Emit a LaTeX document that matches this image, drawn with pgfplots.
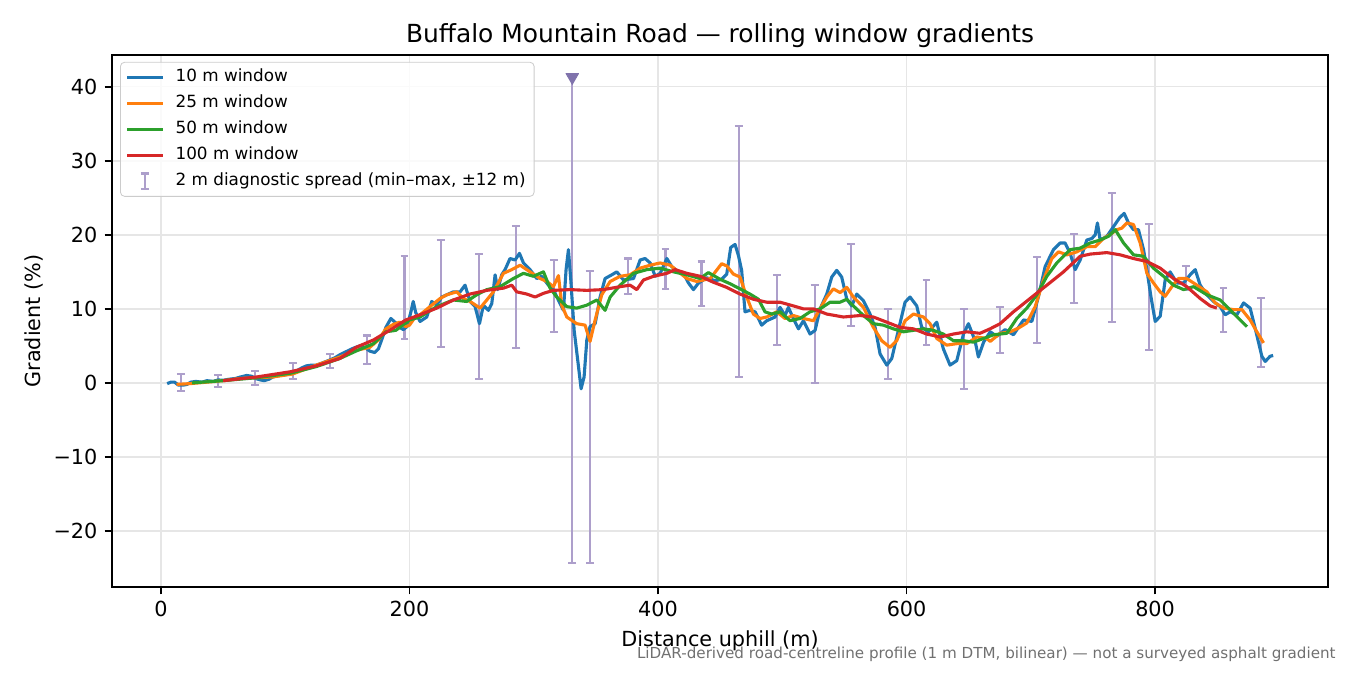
\documentclass[border=0pt]{standalone}
\usepackage{fontspec}
\setmainfont{DejaVu Sans}
\usepackage{pgfplots}
\pgfplotsset{compat=1.18}
\usepackage{pgfplotstable}

\definecolor{c10}{HTML}{1F77B4}
\definecolor{c25}{HTML}{FF7F0E}
\definecolor{c50}{HTML}{2CA02C}
\definecolor{c100}{HTML}{D62728}
\definecolor{errc}{HTML}{AD9FCB}
\definecolor{tric}{HTML}{8073AC}
\definecolor{notec}{HTML}{707070}
\definecolor{gridc}{HTML}{E6E6E6}

% 2 m diagnostic spread: min and max over +-12 m
\pgfplotstableread{
x lo hi
16 -1.1 1.2
46 -0.5 1.1
76 -0.3 1.6
106 0.5 2.7
136 2.0 3.9
166 2.6 6.4
196 5.9 17.2
225 4.9 19.3
256 0.5 17.4
286 4.7 21.2
316 6.9 16.6
331 -24.3 41.3
345 -24.3 15.1
376 12.0 16.8
406 12.7 18.1
435 10.4 16.4
465 0.8 34.7
496 5.1 14.6
526 0.0 13.2
555 7.7 18.8
585 0.5 10.0
616 5.1 13.9
646 -0.8 10.0
675 4.1 10.3
705 5.4 17.0
735 10.8 20.1
765 8.2 25.7
795 4.5 21.5
825 12.6 15.8
855 6.9 12.8
885 2.2 11.5
}\spread

\pgfplotstableread{
x y
5 -0.1
8 0.1
11 0.1
14 -0.3
18 -0.3
21 -0.2
24 0.1
28 0.2
33 0.1
37 0.3
42 0.2
46 0.4
50 0.35
55 0.5
60 0.6
64 0.8
69 1.0
73 0.9
76 0.6
80 0.4
83 0.3
87 0.5
90 0.8
95 1.0
100 1.1
104 1.3
109 1.6
113 2.0
117 2.3
121 2.4
125 2.4
130 2.7
136 3.1
140 3.4
144 3.8
150 4.3
155 4.7
160 5.0
164 4.8
168 4.3
172 4.1
175 4.6
178 6.0
181 7.5
185 8.7
189 8.1
192 7.5
195 7.2
198 7.6
201 9.5
203 11.0
205 9.5
208.5 8.3
213.9 8.9
217.9 11.0
221.9 10.5
226 11.6
230 11.9
235.3 12.3
240.7 12.3
244.7 13.2
248.7 11.0
252.8 10.3
256.3 8.0
259.5 10.5
263.5 9.8
266.2 10.7
268.9 14.6
271 12.6
274.2 14.6
276.9 15.3
280.9 16.8
285 16.6
288.5 17.5
291.7 16.2
297 15.3
302.4 14.1
306.4 14.4
311.8 13.2
315.8 12.6
321.2 10.7
323.9 9.8
326 15.3
327.9 18.0
329.8 13.9
332.5 7.1
336 2.2
338.1 -0.8
340.5 0.8
342.7 5.8
345.3 7.6
349.4 8.0
353.4 11.6
357.4 14.1
362.8 14.6
366.8 15.0
372.2 13.9
380.3 14.1
385.6 16.6
389.6 16.8
393.7 16.2
397.7 14.4
401.7 14.8
407.1 16.8
411.1 15.7
416.5 15.0
420.5 14.8
424.5 13.5
428.5 12.6
432.6 13.5
439.3 14.2
445.9 13.8
451.2 14.0
455.3 14.7
458.5 18.3
462 18.7
464.7 17.2
467.3 15.2
470 9.6
474 9.8
478.1 9.6
483.4 7.8
487.5 8.4
494.2 8.9
498.2 10.2
502.2 9.1
504.9 10.2
508.9 8.7
513 7.3
517 8.4
522.3 6.6
526.4 7.1
530.4 10.0
535.8 12.0
539.8 14.3
543.8 15.2
547.8 14.3
551.9 11.3
555.9 10.4
559.9 12.0
565.3 11.1
570.6 9.3
574.7 7.5
578.7 3.9
584.1 2.4
588.1 3.3
593.4 7.1
598.8 10.9
602.8 11.6
608.2 10.4
612.2 7.5
617.6 6.9
624.3 8.2
629.6 4.6
635 2.4
640.4 3.0
645.8 6.6
649.8 8.0
655.1 5.7
657.8 3.5
662 5.5
667.3 6.9
672.6 6.3
679.3 7.2
686 6.5
694.1 8.5
700.8 8.3
706.2 11.7
711.5 15.7
718.2 18.0
723.6 18.9
727.6 18.9
731.6 17.5
735.7 15.3
739.7 16.6
745.1 19.3
749.1 19.5
751.8 20.0
753.6 21.6
755.8 19.3
761.2 19.8
766.5 21.1
771.4 22.3
775.1 22.9
778.6 21.6
782.6 20.7
786.6 20.7
790.7 18.0
793.4 15.3
796.6 11.7
800.1 8.3
804.1 9.0
808.1 13.9
812.1 15.0
817.5 13.5
822.9 13.5
828.2 14.6
832.3 15.3
836.3 13.2
841.7 11.9
847 11.0
852.4 10.3
856.4 9.2
860.4 9.6
865.8 9.2
871.2 10.8
876.5 10.1
880.5 7.4
885.9 3.6
888.6 2.9
892.6 3.6
895 3.7
}\wten

\pgfplotstableread{
x y
12.5 -0.2
23.5 -0.1
37 0.1
50 0.3
64 0.6
77 0.7
90 0.8
106 1.2
125 2.4
144 3.5
157 4.4
168 4.8
175 5.8
181 7.3
187 7.9
192 8.2
197 7.6
200 7.8
205 9.0
208.5 9.2
216.5 10.3
224.6 11.4
230 11.9
238 12.3
243.4 11.4
248.7 11.0
256.8 10.1
262.2 11.2
267.5 12.3
275.6 14.8
282.3 15.3
289 15.9
297 15.0
305.1 14.1
310.5 13.7
315.8 13.0
319.9 14.5
322.5 10.5
326.6 8.9
334.6 8.0
341.3 7.8
345.3 5.6
349.4 8.5
354.7 11.9
361.5 13.7
369.5 14.4
377.5 14.6
385.6 15.5
393.7 15.9
401.7 16.2
409.8 15.9
416.5 15.0
423.2 14.1
431.2 13.7
442 14.1
451.2 16.1
455.3 15.8
460.6 14.7
466 14.3
471.4 11.6
476.7 9.3
482.1 8.7
487.5 8.9
495.5 9.6
502.2 8.7
508.9 9.1
517 8.7
525 8.4
529 9.6
535.8 11.6
541.1 12.7
546.5 12.2
551.9 12.9
557.2 11.6
565.3 10.2
573.3 7.5
580 5.7
586.7 4.8
592.1 5.7
598.8 8.4
605.5 9.3
613.6 8.9
618.9 8.0
624.3 6.0
632.3 5.1
640.4 5.3
648.4 5.3
656.5 6.2
664.5 6.0
667.3 5.6
675.3 6.7
683.4 6.9
690 7.4
696.8 8.1
703.5 10.3
710.2 13.9
716.9 16.8
722.3 17.7
729 17.3
737 17.7
745.1 18.4
751.8 18.4
758.5 19.5
765.2 20.2
769.2 20.7
773.2 20.9
777.3 21.6
782.6 21.4
788 18.9
793.4 14.8
798.7 13.5
804.1 12.3
808.1 11.7
813.5 13.0
818.8 14.1
825.5 14.1
833.6 13.2
841.7 12.3
848.4 10.8
855.1 10.1
863.1 9.9
869.8 9.9
876.5 8.5
881.9 6.9
887.3 5.4
}\wtwentyfive

\pgfplotstableread{
x y
25 0.0
50 0.3
77 0.7
104 1.3
125 2.2
144 3.3
157 4.3
171 5.3
181 6.9
189 7.1
200 8.5
208.5 8.9
221.9 10.3
235.3 11.2
246 11.0
254.1 11.9
262.2 12.6
272.9 13.0
283.6 14.1
291.7 14.8
299.7 14.4
307.8 15.0
313.1 12.8
318.5 11.6
326.6 10.3
334.6 10.1
342.7 10.5
350.7 11.2
357.4 9.8
361.5 11.6
369.5 13.2
380.3 14.8
391 15.3
401.7 15.5
412.5 15.0
423.2 14.6
433.9 14.1
440.5 14.9
449.9 14.0
457.9 13.4
466 12.7
474 12.0
480.8 11.3
486.1 9.6
491.5 9.3
498.2 9.6
506.2 8.4
514.3 8.7
522.3 9.6
530.4 10.0
538.4 10.9
546.5 10.9
551.9 11.3
557.2 10.4
565.3 9.1
573.3 8.0
581.4 7.8
589.4 7.3
597.5 6.9
605.5 7.1
613.6 7.3
621.6 7.1
629.6 6.6
637.7 5.7
645.8 5.7
653.8 5.5
661.9 6.0
670 6.5
680.7 6.7
688.7 8.7
696.8 10.1
704.8 11.9
712.9 14.4
720.9 16.2
731.6 18.0
739.7 18.2
747.8 18.9
755.8 19.3
762.5 19.8
767.9 20.7
774.6 18.9
782.6 17.3
790.7 17.1
798.7 15.5
806.8 14.4
814.8 13.2
822.9 12.6
830.9 13.0
841.7 11.9
852.4 11.2
863.1 9.4
873.9 7.6
}\wfifty

\pgfplotstableread{
x y
50 0.3
77 0.8
104 1.5
125 2.3
144 3.3
157 4.8
171 5.8
184 7.1
197 8.5
208.5 9.2
221.9 10.1
235.3 11.2
248.7 12.0
262.2 12.5
275.6 12.8
282.3 13.2
286.3 12.3
294.4 12.0
301.1 11.6
307.8 12.1
315.8 12.5
329.2 12.6
342.7 12.5
356.1 12.6
369.5 13.0
377.5 13.2
382.9 12.6
388.3 13.9
396.4 14.4
407.1 14.8
413.8 15.3
423.2 14.8
433.9 14.4
444.5 13.6
455.3 12.9
466 12.0
476.7 11.3
487.5 10.9
498.2 10.9
508.9 10.4
517 10.0
525 10.0
535.8 9.3
549.2 8.9
562.6 9.1
573.3 8.9
584.1 8.2
594.8 7.5
605.5 7.3
616.2 6.6
627 6.2
637.7 6.6
648.4 6.9
659.1 6.7
667.2 7.3
675.3 8.0
686 9.6
699.4 11.4
712.9 13.2
726.3 15.0
739.7 17.1
747.8 17.4
761.2 17.6
771.9 17.3
782.6 16.8
793.4 16.4
804.1 15.5
814.8 14.1
825.5 13.0
836.3 11.4
844.3 10.4
849.7 10.1
}\whundred

\begin{document}
\begin{tikzpicture}
\useasboundingbox (-0.7467in,-0.5867in) rectangle (8.2533in,3.9133in);
\begin{axis}[
    at={(0,0)}, anchor=south west,
    scale only axis,
    width=8.107in, height=3.547in,
    xmin=-39.4, xmax=939.2,
    ymin=-27.57, ymax=44.3,
    xtick={0,200,400,600,800},
    xticklabels={0,200,400,600,800},
    ytick={-20,-10,0,10,20,30,40},
    yticklabels={−20,−10,0,10,20,30,40},
    tick label style={font=\fontsize{10}{12}\selectfont},
    tick align=outside, tick pos=left,
    major tick length=3.5pt,
    tick style={black, line width=0.8pt},
    axis line style={black, line width=0.8pt},
    grid=major,
    major grid style={gridc, line width=0.7pt},
    every axis title shift=0pt,
    title={Buffalo Mountain Road — rolling window gradients},
    title style={at={(axis description cs:0.5,1.0226)}, anchor=base, font=\fontsize{12}{14}\selectfont},
    xlabel={Distance uphill (m)},
    xlabel style={at={(axis description cs:0.5,-0.1109)}, anchor=base, font=\fontsize{10}{12}\selectfont},
    ylabel={Gradient (\%)},
    ylabel style={at={(axis description cs:-0.0584,0.5)}, anchor=base, rotate=0, font=\fontsize{10}{12}\selectfont},
    legend cell align=left,
    legend style={at={(axis description cs:0.0066,0.987)}, anchor=north west,
        draw={rgb,255:red,204;green,204;blue,204}, rounded corners=2pt,
        fill=white, fill opacity=0.8, text opacity=1,
        font=\fontsize{8.1}{9.7}\selectfont, row sep=1.9pt, inner xsep=2.6pt, inner ysep=2pt,
        nodes={inner sep=1.5pt, text height=6pt, text depth=1.6pt},
        /tikz/every odd column/.append style={column sep=3.9pt}},
    every axis plot/.append style={line join=round},
]

\addplot[forget plot, draw=none, mark=none,
    error bars/.cd, y dir=both, y explicit,
    error bar style={draw=errc, line width=1pt},
    error mark options={rotate=90, draw=errc, line width=1pt, mark size=1.9pt}]
  table[x=x, y expr={(\thisrow{lo}+\thisrow{hi})/2},
        y error expr={(\thisrow{hi}-\thisrow{lo})/2}] {\spread};

\addplot[forget plot, only marks, mark=triangle*, mark size=3.5pt,
    mark options={rotate=180, fill=tric, draw=tric}]
  coordinates {(331,41.3)};

\addplot[c10, line width=1.5pt] table[x=x, y=y] {\wten};
\addlegendentry{10 m window}
\addplot[c25, line width=1.5pt] table[x=x, y=y] {\wtwentyfive};
\addlegendentry{25 m window}
\addplot[c50, line width=1.5pt] table[x=x, y=y] {\wfifty};
\addlegendentry{50 m window}
\addplot[c100, line width=1.5pt] table[x=x, y=y] {\whundred};
\addlegendentry{100 m window}

\addlegendimage{legend image code/.code={
    \path[draw=none, fill=none] (0cm,-0.01cm) rectangle (0.6cm,0.01cm);
    \draw[errc, line width=1pt] (0.3cm,-0.13cm) -- (0.3cm,0.13cm)
        (0.23cm,-0.13cm) -- (0.37cm,-0.13cm)
        (0.23cm,0.13cm) -- (0.37cm,0.13cm);}}
\addlegendentry{2 m diagnostic spread (min–max, ±12 m)}

\end{axis}
\node[anchor=base east, inner sep=0pt, text=notec, font=\fontsize{7.3}{8.5}\selectfont]
  at (8.16in,-0.48in) {LiDAR-derived road-centreline profile (1 m DTM, bilinear) — not a surveyed asphalt gradient};
\end{tikzpicture}
\end{document}
